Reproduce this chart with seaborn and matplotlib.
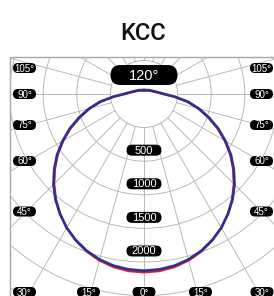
import numpy as np
import pandas as pd
import matplotlib
matplotlib.use("Agg")
import matplotlib.pyplot as plt
from matplotlib.patches import Rectangle, Circle, FancyBboxPatch
import seaborn as sns

# --- data (cd, symmetric about 0 deg) ---
angles = list(range(0, 181, 5))
blue_cd = [2630, 2620, 2595, 2550, 2485, 2400, 2300, 2180, 2050, 1905,
           1745, 1580, 1400, 1220, 1030, 850, 665, 460, 300, 230,
           185, 155, 135, 120, 108, 98, 90, 82, 76, 72,
           68, 65, 63, 61, 60, 60, 60]
red_cd = [2655, 2645, 2615, 2565, 2495, 2405, 2300, 2175, 2040, 1890,
          1730, 1565, 1385, 1205, 1015, 835, 650, 445, 285, 215,
          170, 140, 122, 106, 94, 84, 77, 70, 64, 60,
          56, 53, 51, 49, 48, 47, 47]
ring_values = [500, 1000, 1500, 2000, 2500, 3000, 3500, 4000, 4500]
scale_labels = [500, 1000, 1500, 2000]
grid_angles = list(range(0, 360, 15))
side_labels = ["105°", "90°", "75°", "60°", "45°"]
side_rows = [68, 94, 125, 161, 211.5]
bottom_labels = ["30°", "15°", "0°", "15°", "30°"]
bottom_cols = [24.5, 88.5, 144, 200.5, 262]

# --- pixel helpers (reference is 274x296, polar centre at (144, 94)) ---
U = 1 / 0.0672          # cd per pixel
CX, CY = 144, 94
def px(x):
    return (x - CX) * U
def py(y):
    return (CY - y) * U

def polar_df(vals, name):
    th = np.array([-a for a in angles[::-1]] + angles[1:], dtype=float)
    I = np.array(vals[::-1] + vals[1:], dtype=float)
    t = np.radians(th)
    return pd.DataFrame({"x": I * np.sin(t), "y": -I * np.cos(t), "series": name})

sns.set_style("white")
plt.rcParams["font.family"] = ["Liberation Sans", "DejaVu Sans"]

fig = plt.figure(figsize=(2.74, 2.96), dpi=100)
ax = fig.add_axes([0, 0, 1, 1])

grid_col = "#B5B5B5"
frame = Rectangle((px(10), py(400)), px(280) - px(10), py(57) - py(400),
                  fill=False, ec="#A8A8A8", lw=1.0, zorder=1)
ax.add_patch(frame)

for r in ring_values:
    c = Circle((0, 0), r, fill=False, ec=grid_col, lw=0.65, zorder=1)
    ax.add_patch(c)
    c.set_clip_path(frame)

r0, r1 = ring_values[0], 6000
for a in grid_angles:
    t = np.radians(a)
    ln, = ax.plot([r0 * np.sin(t), r1 * np.sin(t)], [-r0 * np.cos(t), -r1 * np.cos(t)],
                  color=grid_col, lw=0.65, zorder=1)
    ln.set_clip_path(frame)

# curves
sns.lineplot(data=polar_df(red_cd, "C0/180"), x="x", y="y", sort=False, estimator=None,
             color="#ED1C24", lw=1.6, ax=ax, legend=False, zorder=3,
             solid_joinstyle="round")
sns.lineplot(data=polar_df(blue_cd, "C90/270"), x="x", y="y", sort=False, estimator=None,
             color="#2E3192", lw=1.9, ax=ax, legend=False, zorder=4,
             solid_joinstyle="round")
ax.set_xlim(px(0), px(274))
ax.set_ylim(py(296), py(0))
ax.axis("off")

def tag(cx, cy, w, h, text, fs):
    ax.add_patch(FancyBboxPatch((px(cx - w / 2), py(cy + h / 2)), w * U, h * U,
                                boxstyle=f"round,pad=0,rounding_size={h * U / 2}",
                                fc="black", ec="none", zorder=5))
    ax.text(px(cx), py(cy) - 0.5 * U, text, color="white", fontsize=fs,
            ha="center", va="center", zorder=6)

tag(144, 75, 67, 20, "120°", 10.5)
for v in scale_labels:
    tag(144, CY + (v + 336) / U, 35, 11, str(v), 8)
for lab, row in zip(side_labels, side_rows):
    tag(24.5, row, 23, 10, lab, 7)
    tag(261.5, row, 23, 10, lab, 7)
for lab, col in zip(bottom_labels, bottom_cols):
    tag(col, 292, 23, 10, lab, 7)

fig.text(143 / 274, 1 - 33 / 296, "KCC", fontsize=17, color="#111111",
         ha="center", va="center", family=["Roboto", "DejaVu Sans"], weight="medium")

fig.savefig("out.png", dpi=100)
